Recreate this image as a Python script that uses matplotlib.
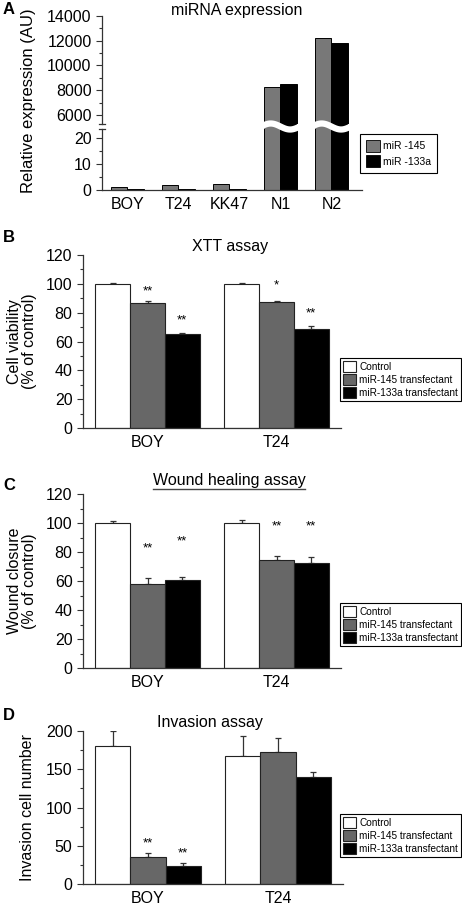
import numpy as np
import matplotlib
matplotlib.use("Agg")
import matplotlib.pyplot as plt
from matplotlib.patches import Patch
from matplotlib.lines import Line2D
from matplotlib.ticker import MultipleLocator

plt.rcParams["font.family"] = ["Liberation Sans", "DejaVu Sans"]

W, H = 462, 910

# panel A: miRNA expression
cell_lines = ["BOY", "T24", "KK47", "N1", "N2"]
mir145_expr = [1.0, 1.8, 2.2, 8300, 12200]
mir133a_expr = [0.2, 0.4, 0.3, 8500, 11800]

# panels B-D
groups = ["BOY", "T24"]
series = ["Control", "miR-145 transfectant", "miR-133a transfectant"]

xtt_mean = [[100, 100], [87, 87.5], [65.5, 69]]
xtt_err = [[0.5, 0.5], [1.2, 0.5], [0.5, 2.0]]
xtt_stars = [["", ""], ["**", "*"], ["**", "**"]]
xtt_star_y = [[0, 0], [94.5, 99.2], [74.9, 79.6]]

wound_mean = [[100, 100], [58, 74.5], [60.5, 72.5]]
wound_err = [[1.5, 2.0], [4.0, 2.5], [2.0, 4.0]]
wound_stars = [["", ""], ["**", "**"], ["**", "**"]]
wound_star_y = [[0, 0], [82.6, 97.9], [87.1, 97.9]]

inv_mean = [[181, 167], [35, 173], [23, 140]]
inv_err = [[19, 27], [5, 18], [5, 6]]
inv_stars = [["", ""], ["**", ""], ["**", ""]]
inv_star_y = [[0, 0], [53.6, 0], [40.5, 0]]

GRAY_A = "#787878"
GRAY = "#676767"
colors = ["white", GRAY, "black"]

fig = plt.figure(figsize=(W / 100, H / 100), dpi=100)


def px_axes(x0, y0, x1, y1):
    return fig.add_axes([x0 / W, 1 - y1 / H, (x1 - x0) / W, (y1 - y0) / H])


def fx(x):
    return x / W


def fy(y):
    return 1 - y / H


def style_axis(ax):
    ax.spines["top"].set_visible(False)
    ax.spines["right"].set_visible(False)
    for s in ["left", "bottom"]:
        ax.spines[s].set_linewidth(0.9)
        ax.spines[s].set_color("#333333")
    ax.tick_params(axis="y", which="both", direction="out", colors="#333333",
                   labelcolor="black", labelsize=11.5, width=0.8)
    ax.tick_params(axis="y", which="major", length=4)
    ax.tick_params(axis="y", which="minor", length=2.5)
    ax.tick_params(axis="x", length=0, labelsize=11.5, pad=5)


def add_legend(handles, labels, x0, y0, size=7.2, hl=1.3, spacing=0.2, pad=0.3):
    leg = fig.legend(handles, labels, loc="upper left",
                     bbox_to_anchor=(fx(x0), fy(y0)), borderaxespad=0,
                     fontsize=size, handlelength=hl, handleheight=hl,
                     handletextpad=0.3, labelspacing=spacing, borderpad=pad,
                     fancybox=False, framealpha=1)
    leg.get_frame().set_edgecolor("black")
    leg.get_frame().set_linewidth(0.8)
    return leg


# ---------- A ----------
x = np.arange(len(cell_lines))
bw = 0.32
ax_top = px_axes(102, 16, 362, 124)
ax_bot = px_axes(102, 129, 362, 190)
for a in (ax_top, ax_bot):
    a.bar(x - bw / 2, mir145_expr, bw, color=GRAY_A, edgecolor="black", linewidth=0.7)
    a.bar(x + bw / 2, mir133a_expr, bw, color="black", edgecolor="black", linewidth=0.7)
    a.set_xlim(-0.5, 4.6)
    style_axis(a)
ax_top.set_ylim(5270, 14000)
ax_top.yaxis.set_major_locator(MultipleLocator(2000))
ax_top.yaxis.set_minor_locator(MultipleLocator(1000))
ax_top.spines["bottom"].set_visible(False)
ax_top.set_xticks([])
ax_bot.set_ylim(0, 23.5)
ax_bot.yaxis.set_major_locator(MultipleLocator(10))
ax_bot.yaxis.set_minor_locator(MultipleLocator(5))
ax_bot.set_xticks(x)
ax_bot.set_xticklabels(cell_lines)

# fill the gap between the two bar halves, then a wavy white break
gap_top = fig.transFigure.transform((0, fy(124)))[1]
gap_bot = fig.transFigure.transform((0, fy(129)))[1]
for i in (3, 4):
    for off, col in ((-bw / 2, GRAY_A), (bw / 2, "black")):
        l, r = ax_bot.transData.transform([(i + off - bw / 2, 0), (i + off + bw / 2, 0)])[:, 0]
        fig.add_artist(plt.Rectangle((l / fig.bbox.width, gap_bot / fig.bbox.height),
                                     (r - l) / fig.bbox.width,
                                     (gap_top - gap_bot) / fig.bbox.height,
                                     facecolor=col, edgecolor="none"))
    xs = np.linspace(i - bw - 0.06, i + bw + 0.06, 60)
    px = ax_bot.transData.transform(np.column_stack([xs, np.zeros_like(xs)]))[:, 0]
    yb = (gap_top + gap_bot) / 2
    wave = yb + 3 * np.sin((px - px[0]) / (px[-1] - px[0]) * 2 * np.pi)
    fig.add_artist(Line2D(px / fig.bbox.width, wave / fig.bbox.height,
                          color="white", linewidth=4.5, solid_capstyle="butt"))
# axis break caps
for yy in (124, 129):
    fig.add_artist(Line2D([fx(99), fx(105)], [fy(yy), fy(yy)],
                          color="#333333", linewidth=0.9))

fig.text(fx(237), fy(10), "miRNA expression", ha="center", va="center", fontsize=11.5)
fig.text(fx(29), fy(101), "Relative expression (AU)", rotation=90,
         ha="center", va="center", fontsize=12)
fig.text(fx(3), fy(10), "A", fontweight="bold", fontsize=12, va="center")
add_legend([Patch(facecolor=GRAY_A, edgecolor="black", linewidth=0.6),
            Patch(facecolor="black", edgecolor="black", linewidth=0.6)],
           ["miR -145", "miR -133a"], 360, 134, size=7.5, hl=1.4,
           spacing=0.35, pad=0.55)


# ---------- B, C, D ----------
def group_panel(box, means, errs, stars, star_y, ylim, major, minor,
                title, title_xy, ylabel, ylabel_x, letter, letter_y, legend_y):
    ax = px_axes(*box)
    gx = np.arange(len(groups))
    w = 0.27
    for k in range(len(series)):
        pos = gx + (k - 1) * w
        ax.bar(pos, means[k], w, color=colors[k], edgecolor="#222222",
               linewidth=0.8, label=series[k], zorder=2)
        ax.errorbar(pos, means[k], yerr=[np.zeros(len(groups)), errs[k]],
                    fmt="none", ecolor="#333333", elinewidth=0.9, capsize=2.5,
                    capthick=0.9, zorder=1)
        for j in range(len(groups)):
            if stars[k][j]:
                ax.text(pos[j], star_y[k][j], stars[k][j], ha="center",
                        va="center", fontsize=9.5)
    ax.set_xlim(-0.5, 1.5)
    ax.set_ylim(*ylim)
    ax.yaxis.set_major_locator(MultipleLocator(major))
    ax.yaxis.set_minor_locator(MultipleLocator(minor))
    ax.set_xticks(gx)
    ax.set_xticklabels(groups)
    style_axis(ax)
    t = fig.text(fx(title_xy[0]), fy(title_xy[1]), title, ha="center",
                 va="center", fontsize=11.5)
    fig.text(fx(ylabel_x), fy((box[1] + box[3]) / 2), ylabel, rotation=90,
             ha="center", va="center", fontsize=11.5, linespacing=1.0)
    fig.text(fx(3), fy(letter_y), letter, fontweight="bold", fontsize=12,
             va="center")
    handles, labels = ax.get_legend_handles_labels()
    add_legend(handles, labels, 340, legend_y)
    return t


group_panel((83, 255, 341, 428), xtt_mean, xtt_err, xtt_stars, xtt_star_y,
            (0, 120), 20, 10, "XTT assay", (230, 247),
            "Cell viability\n(% of control)", 22, "B", 238, 358)

t_c = group_panel((83, 494, 341, 668), wound_mean, wound_err, wound_stars,
                  wound_star_y, (0, 120), 20, 10, "Wound healing assay",
                  (229, 481), "Wound closure\n(% of control)", 22, "C", 485, 603)

group_panel((83, 731, 343, 884), inv_mean, inv_err, inv_stars, inv_star_y,
            (0, 200), 50, 25, "Invasion assay", (210, 722),
            "Invasion cell number", 28, "D", 715, 814)

# underline for wound healing title
fig.canvas.draw()
bb = t_c.get_window_extent().transformed(fig.transFigure.inverted())
fig.add_artist(Line2D([bb.x0, bb.x1], [bb.y0 - 0.001, bb.y0 - 0.001],
                      color="#444444", linewidth=1.0))

fig.savefig("out.png", dpi=100)
